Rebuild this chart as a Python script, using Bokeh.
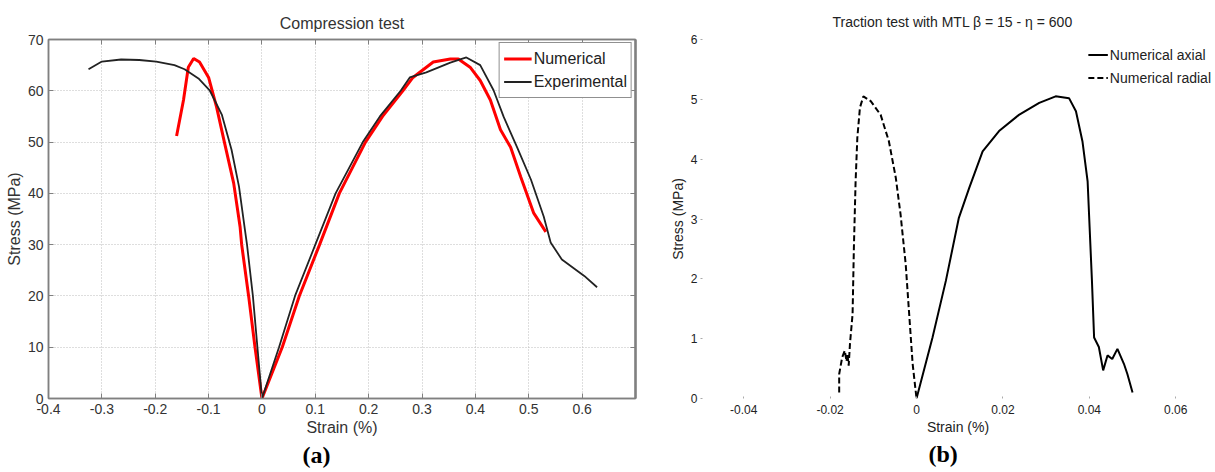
from bokeh.plotting import figure
from bokeh.layouts import row
from bokeh.models import (LinearAxis, FixedTicker, CustomJSTickFormatter,
                          Range1d, Title)
from bokeh.embed import file_html
from bokeh.resources import INLINE

# ---------------- data: compression test (a) ----------------
exp_strain = [-0.325, -0.300, -0.264, -0.230, -0.198, -0.164, -0.145, -0.119, -0.098,
              -0.075, -0.057, -0.043, -0.032, -0.028, -0.017, -0.0085, 0.0, 0.032,
              0.062, 0.100, 0.138, 0.189, 0.221, 0.260, 0.277, 0.308, 0.353, 0.383,
              0.409, 0.434, 0.453, 0.478, 0.504, 0.528, 0.541, 0.562, 0.604, 0.628]
exp_stress = [64.2, 65.7, 66.1, 66.0, 65.7, 65.0, 64.2, 62.4, 60.1,
              55.3, 48.5, 41.3, 33.0, 30.0, 20.0, 10.0, 0.0, 10.0,
              20.0, 30.0, 40.0, 50.0, 55.0, 60.0, 62.6, 63.6, 65.5, 66.5,
              65.0, 60.1, 54.9, 49.0, 42.7, 35.5, 30.4, 27.1, 23.9, 21.7]

num_strain = [-0.160, -0.147, -0.138, -0.128, -0.117, -0.100, -0.085, -0.070, -0.053,
              -0.041, -0.038, -0.025, -0.013, 0.0, 0.038, 0.070, 0.108, 0.145, 0.194,
              0.226, 0.264, 0.283, 0.321, 0.353, 0.368, 0.390, 0.409, 0.428, 0.447,
              0.466, 0.485, 0.509, 0.532]
num_stress = [51.2, 58.2, 64.6, 66.3, 65.6, 62.6, 56.8, 49.8, 42.0,
              33.5, 30.0, 20.0, 10.0, 0.0, 10.0, 20.0, 30.0, 40.0, 50.0,
              55.0, 60.0, 62.6, 65.6, 66.2, 66.2, 64.6, 62.0, 58.2, 52.4,
              49.0, 43.2, 36.2, 32.5]

a_xticks = [-0.4, -0.3, -0.2, -0.1, 0, 0.1, 0.2, 0.3, 0.4, 0.5, 0.6]
a_yticks = [0, 10, 20, 30, 40, 50, 60, 70]

# ---------------- data: traction test (b) ----------------
axial_strain = [0.0, 0.0037, 0.0068, 0.0098, 0.0122, 0.0153, 0.0191, 0.0237, 0.0284,
                0.0322, 0.0353, 0.0369, 0.0384, 0.0396, 0.0401, 0.0406, 0.0411, 0.0422,
                0.0432, 0.0442, 0.0453, 0.0465, 0.0480, 0.0488, 0.0500]
axial_stress = [0.0, 1.02, 1.97, 3.02, 3.52, 4.13, 4.47, 4.74, 4.94,
                5.05, 5.02, 4.80, 4.30, 3.63, 2.80, 1.97, 1.02, 0.86,
                0.47, 0.72, 0.66, 0.83, 0.58, 0.41, 0.10]

radial_strain = [-0.0179, -0.0179, -0.0172, -0.0166, -0.0162, -0.0160, -0.0157, -0.0154,
                 -0.0148, -0.0145, -0.0141, -0.0137, -0.0131, -0.0123, -0.0106, -0.0083,
                 -0.0064, -0.0048, -0.0037, -0.0025, -0.0017, -0.0009, 0.0]
radial_stress = [0.10, 0.41, 0.69, 0.80, 0.62, 0.75, 0.55, 0.92,
                 1.41, 2.52, 3.63, 4.36, 4.86, 5.05, 4.97, 4.74,
                 4.30, 3.69, 3.08, 2.24, 1.41, 0.58, 0.0]

b_xticks = [-0.04, -0.02, 0, 0.02, 0.04, 0.06]
b_yticks = [0, 1, 2, 3, 4, 5, 6]

SANS = "Liberation Sans"
FRAME = "#808080"

# ================= panel (a) =================
p1 = figure(width=650, height=472, x_range=Range1d(-0.4, 0.7), y_range=Range1d(0, 70),
            output_backend="svg", toolbar_location=None, title=None,
            min_border_left=48, min_border_right=15, min_border_top=39, min_border_bottom=72)
p1.outline_line_color = FRAME
p1.outline_line_width = 1.5

for ax in p1.xaxis:
    ax.ticker = FixedTicker(ticks=a_xticks)
    ax.formatter = CustomJSTickFormatter(code="return tick == 0 ? '0' : tick.toFixed(1);")
    ax.axis_label = "Strain (%)"
for ax in p1.yaxis:
    ax.ticker = FixedTicker(ticks=a_yticks)
    ax.axis_label = "Stress (MPa)"
for ax in p1.xaxis + p1.yaxis:
    ax.major_tick_in = 5
    ax.major_tick_out = 0
    ax.minor_tick_line_color = None
    ax.axis_line_color = FRAME
    ax.axis_line_width = 1.5
    ax.major_tick_line_color = FRAME
    ax.major_label_text_font = SANS
    ax.major_label_text_font_size = "14px"
    ax.major_label_text_color = "#333333"
    ax.major_label_standoff = 5
    ax.axis_label_text_font = SANS
    ax.axis_label_text_font_size = "16px"
    ax.axis_label_text_font_style = "normal"
    ax.axis_label_text_color = "#333333"
    ax.axis_label_standoff = 2

top_ax = LinearAxis(ticker=FixedTicker(ticks=a_xticks),
                    formatter=CustomJSTickFormatter(code="return '';"),
                    major_tick_in=5, major_tick_out=0, minor_tick_line_color=None,
                    axis_line_color=FRAME, axis_line_width=1.5,
                    major_tick_line_color=FRAME, major_label_standoff=0)
p1.add_layout(top_ax, "above")
right_ax = LinearAxis(ticker=FixedTicker(ticks=a_yticks),
                      formatter=CustomJSTickFormatter(code="return '';"),
                      major_tick_in=5, major_tick_out=0, minor_tick_line_color=None,
                      axis_line_color=FRAME, axis_line_width=2.5,
                      major_tick_line_color=FRAME, major_label_standoff=0)
p1.add_layout(right_ax, "right")

t1 = Title(text="Compression test", align="center", standoff=16, text_font=SANS,
           text_font_size="16px", text_font_style="normal", text_color="#333333")
p1.add_layout(t1, "above")

p1.grid.grid_line_color = "#bdbdbd"
p1.grid.grid_line_dash = "1 2"
p1.grid.grid_line_width = 1

p1.line(num_strain, num_stress, line_color="#ff0000", line_width=3, legend_label="Numerical")
p1.line(exp_strain, exp_stress, line_color="#222222", line_width=1.8, legend_label="Experimental")

lg = p1.legend[0]
lg.location = "top_right"
lg.margin = 3
lg.padding = 4
lg.spacing = 0
lg.border_line_color = "#222222"
lg.border_line_width = 1
lg.background_fill_alpha = 1
lg.label_text_font = SANS
lg.label_text_font_size = "16px"
lg.label_text_color = "#222222"
lg.glyph_width = 28
lg.label_standoff = 2
lg.label_height = 23
lg.glyph_height = 23

cap_a = Title(text="(a)", align="left", offset=254, standoff=2, text_font="Liberation Serif",
              text_font_size="24px", text_font_style="bold", text_color="#000000")
p1.add_layout(cap_a, "below")

# ================= panel (b) =================
p2 = figure(width=565, height=472, x_range=Range1d(-0.05, 0.0692), y_range=Range1d(0, 6),
            output_backend="svg", toolbar_location=None, title=None,
            min_border_left=50, min_border_right=0, min_border_top=38, min_border_bottom=74)
p2.outline_line_color = None
p2.grid.grid_line_color = None

for ax in p2.xaxis:
    ax.ticker = FixedTicker(ticks=b_xticks)
    ax.formatter = CustomJSTickFormatter(code="return tick == 0 ? '0' : tick.toFixed(2);")
    ax.axis_label = "Strain (%)"
    ax.major_label_standoff = 6
for ax in p2.yaxis:
    ax.ticker = FixedTicker(ticks=b_yticks)
    ax.axis_label = "Stress (MPa)"
    ax.major_label_standoff = 3
for ax in p2.xaxis + p2.yaxis:
    ax.axis_line_color = None
    ax.major_tick_in = 2
    ax.major_tick_out = 0
    ax.major_tick_line_color = "#aaaaaa"
    ax.minor_tick_line_color = None
    ax.major_label_text_font = SANS
    ax.major_label_text_font_size = "12px"
    ax.major_label_text_color = "#222222"
    ax.axis_label_text_font = SANS
    ax.axis_label_text_font_size = "14px"
    ax.axis_label_text_font_style = "normal"
    ax.axis_label_text_color = "#222222"
    ax.axis_label_standoff = 2

t2 = Title(text="Traction test with MTL \u03b2 = 15 - \u03b7 = 600", align="left",
           offset=132, standoff=20, text_font=SANS, text_font_size="14px",
           text_font_style="normal", text_color="#222222")
p2.add_layout(t2, "above")

p2.line(axial_strain, axial_stress, line_color="#000000", line_width=2,
        legend_label="Numerical axial")
p2.line(radial_strain, radial_stress, line_color="#000000", line_width=2,
        line_dash="6 3", legend_label="Numerical radial")

lg2 = p2.legend[0]
lg2.location = "top_right"
lg2.margin = 4
lg2.padding = 2
lg2.spacing = 0
lg2.border_line_color = None
lg2.background_fill_alpha = 0
lg2.label_text_font = SANS
lg2.label_text_font_size = "14px"
lg2.label_text_color = "#222222"
lg2.glyph_width = 20
lg2.label_standoff = 2
lg2.label_height = 23
lg2.glyph_height = 23

cap_b = Title(text="(b)", align="left", offset=228, standoff=2, text_font="Liberation Serif",
              text_font_size="24px", text_font_style="bold", text_color="#000000")
p2.add_layout(cap_b, "below")

layout = row(p1, p2)
open("out.html", "w").write(file_html(layout, INLINE))
